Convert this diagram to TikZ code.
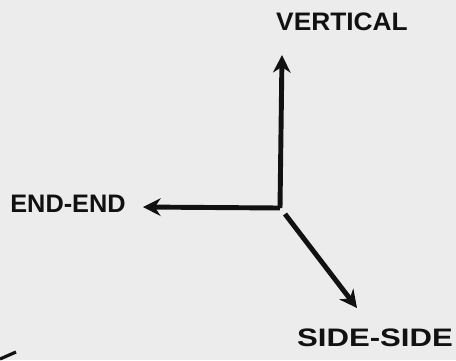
\documentclass[tikz,border=0pt]{standalone}
\usepackage{fontspec}
\setmainfont{Liberation Sans}
\usetikzlibrary{arrows.meta}
\definecolor{paper}{HTML}{ECECEC}
\definecolor{ink}{HTML}{111111}
\begin{document}
\begin{tikzpicture}[x=0.02cm, y=-0.02cm,
    axis/.style={draw=ink, line width=2.8pt, -{Stealth[length=10pt, width=10pt]}},
    lbl/.style={font=\bfseries\Large, text=ink, inner sep=0pt}
]
    \fill[paper] (0,0) rectangle (456,360);
    \useasboundingbox (0,0) rectangle (456,360);
    % origin of the three directions
    \coordinate (o) at (280,208);
    \coordinate (od) at (285,214);
    \coordinate (up) at (282,55);
    \coordinate (left) at (143,207);
    \coordinate (diag) at (357,308);
    \node[lbl, xscale=1.04] (vert) at (342,22) {VERTICAL};
    \node[lbl, xscale=1.0] (endend) at (68,204) {END-END};
    \node[lbl, xscale=1.23] (sideside) at (375,338) {SIDE-SIDE};
    \draw[axis] (o) -- (up);
    \draw[axis] (o) -- (left);
    \draw[axis] (od) -- (diag);
    % edge of a sheet at the corner
    \draw[ink, line width=1.8pt] (0,359) -- (16,352);
\end{tikzpicture}
\end{document}
